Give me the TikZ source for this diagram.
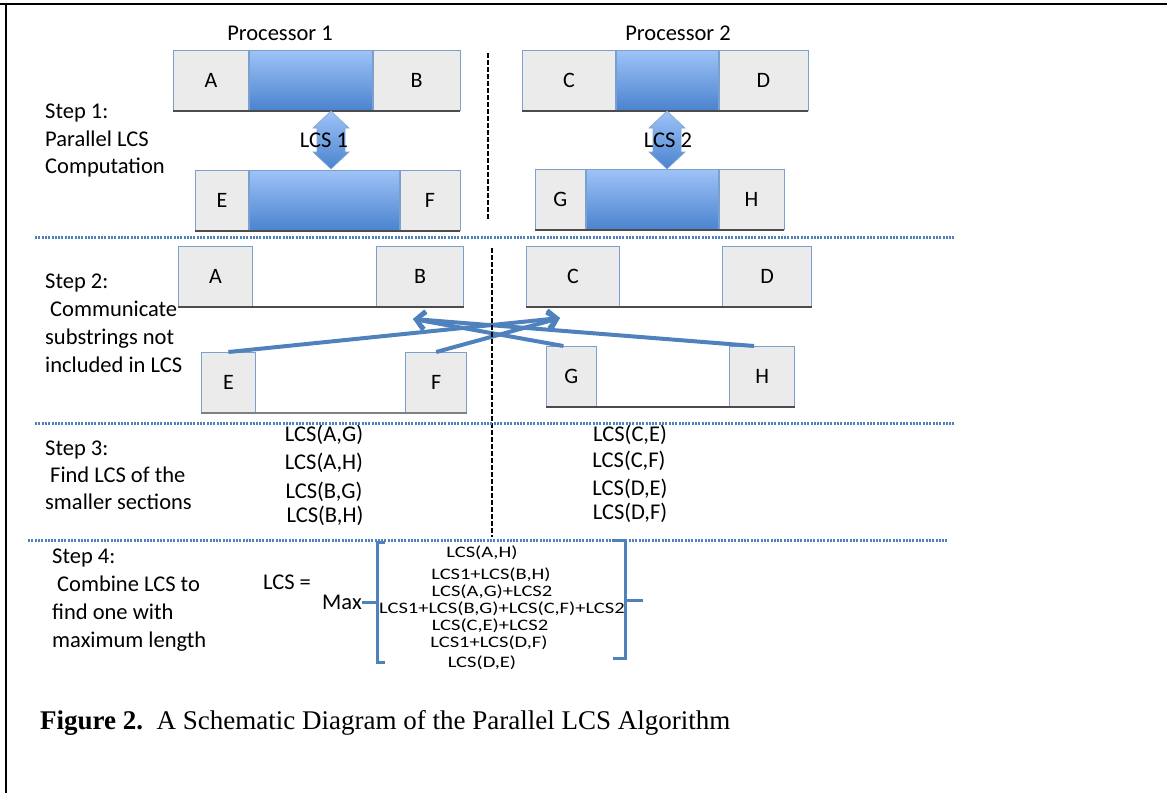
\documentclass[tikz,border=0pt]{standalone}
\usepackage{graphicx}
\usepackage{fontspec}
\setmainfont{Carlito}
\newfontfamily\capfont{Liberation Serif}
\usetikzlibrary{positioning,arrows.meta}
\definecolor{boxblue}{HTML}{4F81BD}
\definecolor{texgray}{HTML}{EBEBEB}
\definecolor{lcstop}{HTML}{9EC3F7}
\definecolor{lcsbot}{HTML}{4A83CF}

\begin{document}
\begin{tikzpicture}[x=1pt,y=-1pt,
  seg/.style={draw=boxblue!75,line width=0.8pt,inner sep=0pt,font=\fontsize{22}{26}\selectfont},
  grayseg/.style={seg,fill=texgray,minimum height=60pt},
  lcsseg/.style={seg,top color=lcstop,bottom color=lcsbot,minimum height=60pt},
  gapseg/.style={inner sep=0pt,fill=white,minimum height=60pt},
  shadowline/.style={black!70,line width=1.6pt},
  lbl/.style={inner sep=0pt,font=\fontsize{22.5}{27}\selectfont},
  steptxt/.style={lbl,anchor=north west,align=left},
  frm/.style={inner sep=0pt,font=\fontsize{20.5}{24}\selectfont},
  sepline/.style={boxblue,line width=3pt,dash pattern=on 2pt off 1.3pt},
  divider/.style={black,line width=2pt,dash pattern=on 5pt off 2pt},
  dblarrow/.style={top color=lcstop,bottom color=lcsbot,draw=boxblue!70,line width=0.6pt},
  xfer/.style={boxblue,line width=4pt,-{Straight Barb[length=9pt,width=18pt]}},
  brk/.style={boxblue,line width=3pt}]
\useasboundingbox (0,0) rectangle (1167,793);
% frame
\draw[line width=2.5pt] (0,4) -- (1167,4);
\draw[line width=2.5pt] (6,4) -- (6,793);

% step 1: processor 1
\node[lbl] (proc1) at (280,33) {Processor 1};
\node[grayseg,minimum width=75pt,anchor=north west] (A1) at (173,50) {A};
\node[lcsseg,minimum width=123pt,right=0pt of A1] (AB1) {};
\node[grayseg,minimum width=87pt,right=0pt of AB1] (B1) {B};
\node[grayseg,minimum width=53pt,anchor=north west] (E1) at (195,170) {E};
\node[lcsseg,minimum width=150pt,right=0pt of E1] (EF1) {};
\node[grayseg,minimum width=60pt,right=0pt of EF1] (F1) {F};
% step 1: processor 2
\node[lbl] (proc2) at (678,33) {Processor 2};
\node[grayseg,minimum width=93pt,anchor=north west] (C1) at (522,50) {C};
\node[lcsseg,minimum width=102pt,right=0pt of C1] (CD1) {};
\node[grayseg,minimum width=89pt,right=0pt of CD1] (D1) {D};
\node[grayseg,minimum width=50pt,anchor=north west] (G1) at (535,169) {G};
\node[lcsseg,minimum width=132pt,right=0pt of G1] (GH1) {};
\node[grayseg,minimum width=65pt,right=0pt of GH1] (H1) {H};

\draw[shadowline] (A1.south west) -- (B1.south east);
\draw[shadowline] (E1.south west) -- (F1.south east);
\draw[shadowline] (C1.south west) -- (D1.south east);
\draw[shadowline] (G1.south west) -- (H1.south east);

\foreach \ax in {331,667}
  \shade[dblarrow] (\ax,111) -- ++(18,17) -- ++(-4,0) -- ++(0,24) -- ++(4,0)
    -- ++(-18,17) -- ++(-18,-17) -- ++(4,0) -- ++(0,-24) -- ++(-4,0) -- cycle;
\node[lbl] (lcs1) at (324,140) {LCS 1};
\node[lbl] (lcs2) at (668,140) {LCS 2};

\node[steptxt,font=\fontsize{22.5}{27.2}\selectfont] (step1) at (45,104) {Step 1:\\Parallel LCS\\Computation};
\draw[divider] (488,53) -- (488,220);
\draw[sepline] (35,237) -- (955,237);

% step 2
\node[grayseg,minimum width=74pt,anchor=north west] (A2) at (178,246) {A};
\node[gapseg,minimum width=123pt,right=0pt of A2] (AB2) {};
\node[grayseg,minimum width=87pt,right=0pt of AB2] (B2) {B};
\node[grayseg,minimum width=54pt,anchor=north west] (E2) at (201,352) {E};
\node[gapseg,minimum width=149pt,right=0pt of E2] (EF2) {};
\node[grayseg,minimum width=61pt,right=0pt of EF2] (F2) {F};
\node[grayseg,minimum width=93pt,anchor=north west] (C2) at (526,246) {C};
\node[gapseg,minimum width=102pt,right=0pt of C2] (CD2) {};
\node[grayseg,minimum width=89pt,right=0pt of CD2] (D2) {D};
\node[grayseg,minimum width=50pt,anchor=north west] (G2) at (546,346) {G};
\node[gapseg,minimum width=132pt,right=0pt of G2] (GH2) {};
\node[grayseg,minimum width=65pt,right=0pt of GH2] (H2) {H};

\draw[shadowline] (A2.south west) -- (B2.south east);
\draw[shadowline,black!50] (E2.south west) -- (F2.south east);
\draw[shadowline] (C2.south west) -- (D2.south east);
\draw[shadowline] (G2.south west) -- (H2.south east);

\coordinate (tipL) at (413,319);
\coordinate (tipR) at (560,318);
\draw[xfer] (E2.north) -- (tipR);
\draw[xfer] (F2.north) -- (tipR);
\draw[xfer] ([xshift=-8pt]G2.north) -- (tipL);
\draw[xfer] ([xshift=-8pt]H2.north) -- (tipL);

\node[steptxt,font=\fontsize{22.5}{28}\selectfont] (step2) at (45,274) {Step 2:\\\hspace*{5pt}Communicate\\substrings not\\included in LCS};
\draw[divider] (492,248) -- (492,537);
\draw[sepline] (35,423) -- (955,423);

% step 3
\node[steptxt] (step3) at (45,441) {Step 3:\\\hspace*{5pt}Find LCS of the\\smaller sections};
\node[lbl] (ag) at (324,435) {LCS(A,G)};
\node[lbl] (ah) at (324,463) {LCS(A,H)};
\node[lbl] (bg) at (324,492) {LCS(B,G)};
\node[lbl] (bh) at (325,516) {LCS(B,H)};
\node[lbl] (ce) at (630,435) {LCS(C,E)};
\node[lbl] (cf) at (629,461) {LCS(C,F)};
\node[lbl] (de) at (630,489) {LCS(D,E)};
\node[lbl] (df) at (630,513) {LCS(D,F)};
\draw[sepline] (28,540) -- (948,540);

% step 4
\node[steptxt,font=\fontsize{22.5}{27.8}\selectfont] (step4) at (52,549) {Step 4:\\\hspace*{5pt}Combine LCS to\\find one with\\maximum length};
\node[lbl] (lcseq) at (287,582) {LCS =};
\node[lbl] (max) at (342,602) {Max};
\draw[brk] (385,542) -- (377,542) -- (377,662) -- (385,662);
\draw[brk] (max.east) -- (377,602);
\draw[brk] (613,540) -- (625,540) -- (625,658) -- (613,658);
\draw[brk] (625,600) -- (643,600);
\node[frm] (r1) at (482,553) {\scalebox{1}[0.78]{LCS(A,H)}};
\node[frm] (r2) at (491,575) {\scalebox{1}[0.78]{LCS1+LCS(B,H)}};
\node[frm] (r3) at (492,592) {\scalebox{1}[0.78]{LCS(A,G)+LCS2}};
\node[frm] (r4) at (502,609) {\scalebox{1}[0.78]{LCS1+LCS(B,G)+LCS(C,F)+LCS2}};
\node[frm] (r5) at (490,626) {\scalebox{1}[0.78]{LCS(C,E)+LCS2}};
\node[frm] (r6) at (489,643) {\scalebox{1}[0.78]{LCS1+LCS(D,F)}};
\node[frm] (r7) at (482,663) {\scalebox{1}[0.78]{LCS(D,E)}};

% caption
\node[anchor=base west,inner sep=0pt,font=\capfont\fontsize{27}{32}\selectfont] (cap) at (40,729)
  {\textbf{Figure 2.}\ \ A Schematic Diagram of the Parallel LCS Algorithm};
\end{tikzpicture}
\end{document}
